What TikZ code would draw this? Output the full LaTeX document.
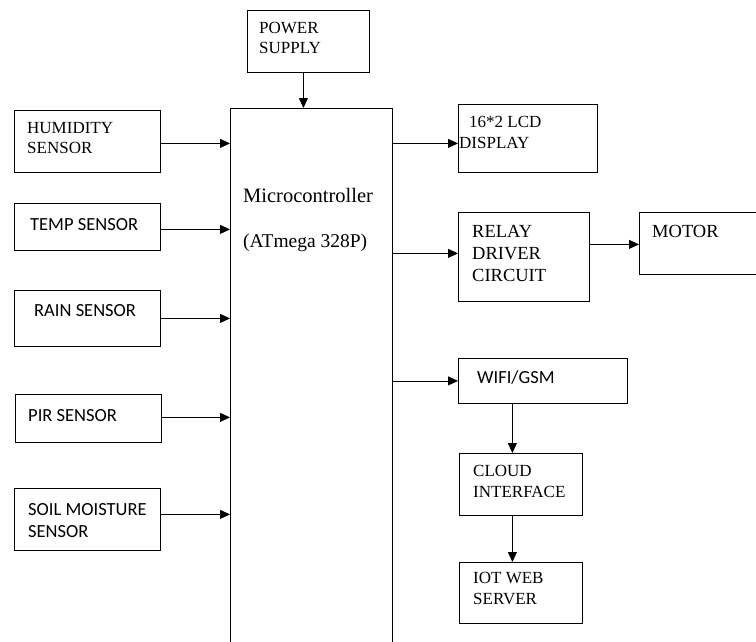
\documentclass[tikz,border=0pt]{standalone}
\usepackage{fontspec}
\setmainfont{Liberation Serif}
\newfontfamily\calibri{Carlito}
\usetikzlibrary{arrows.meta}
\begin{document}
\begin{tikzpicture}[x=1pt,y=-1pt,
  box/.style={draw, line width=0.8pt, rectangle, inner sep=0pt, anchor=north west},
  arr/.style={line width=0.8pt, -{Triangle[length=10pt,width=9pt]}},
  tx/.style={anchor=base west, inner sep=0pt, font=\fontsize{17}{20}\selectfont},
  txb/.style={anchor=base west, inner sep=0pt, font=\fontsize{18.5}{22}\selectfont},
  sx/.style={anchor=base west, inner sep=0pt, font=\calibri\fontsize{18.5}{22}\selectfont}]
\useasboundingbox (0,0) rectangle (756,641);
\clip (0,0) rectangle (756,641);

% boxes
\node[box, minimum width=122pt, minimum height=62pt] (power) at (247,10) {};
\node[box, minimum width=146pt, minimum height=62pt] (hum) at (14,110) {};
\node[box, minimum width=146pt, minimum height=47pt] (temp) at (14,203) {};
\node[box, minimum width=146pt, minimum height=56pt] (rain) at (14,290) {};
\node[box, minimum width=146pt, minimum height=48pt] (pir) at (15,394) {};
\node[box, minimum width=146pt, minimum height=62pt] (soil) at (14,488) {};
\node[box, minimum width=139pt, minimum height=68pt] (lcd) at (458,104) {};
\node[box, minimum width=131pt, minimum height=89pt] (relay) at (458,212) {};
\node[box, minimum width=130pt, minimum height=62pt] (motor) at (639,212) {};
\node[box, minimum width=169pt, minimum height=45pt] (wifi) at (458,358) {};
\node[box, minimum width=123pt, minimum height=62pt] (cloud) at (459,453) {};
\node[box, minimum width=123pt, minimum height=61pt] (iot) at (459,562) {};

% microcontroller (open at the bottom)
\node[anchor=north west, inner sep=0pt, minimum width=162pt, minimum height=545pt] (mc) at (230,108) {};
\draw[line width=0.8pt] (mc.south west) -- (mc.north west) -- (mc.north east) -- (mc.south east);

% texts
\node[tx] (tpow1) at (259,33) {POWER};
\node[tx] (tpow2) at (259,53) {SUPPLY};
\node[tx] (thum1) at (27,133) {HUMIDITY};
\node[tx] (thum2) at (27,153) {SENSOR};
\node[anchor=base west, inner sep=0pt, font=\fontsize{20.5}{24}\selectfont] (tmc1) at (243,202) {Microcontroller};
\node[anchor=base west, inner sep=0pt, font=\fontsize{19.5}{24}\selectfont] (tmc2) at (243,247) {(ATmega 328P)};
\node[sx] (ttemp) at (30,230) {TEMP SENSOR};
\node[sx] (train) at (34,316) {RAIN SENSOR};
\node[sx] (tpir) at (28,421) {PIR SENSOR};
\node[sx] (tsoil1) at (28,515) {SOIL MOISTURE};
\node[sx] (tsoil2) at (28,537) {SENSOR};
\node[tx] (tlcd1) at (469,127) {16*2 LCD};
\node[tx] (tlcd2) at (459,148) {DISPLAY};
\node[txb] (trel1) at (472,237) {RELAY};
\node[txb] (trel2) at (472,259) {DRIVER};
\node[txb] (trel3) at (472,281) {CIRCUIT};
\node[txb] (tmot) at (652,237) {MOTOR};
\node[sx] (twifi) at (477,383) {WIFI/GSM};
\node[tx] (tcl1) at (473,476) {CLOUD};
\node[tx] (tcl2) at (473,497) {INTERFACE};
\node[tx] (tiot1) at (473,583) {IOT WEB};
\node[tx] (tiot2) at (473,604) {SERVER};

% connector anchor points
\coordinate (pwout) at ([xshift=-5pt]power.south);
\coordinate (humout) at ([yshift=-2pt]hum.east);
\coordinate (tempout) at ([yshift=-2.5pt]temp.east);
\coordinate (rainout) at (rain.east);
\coordinate (pirout) at ([yshift=1pt]pir.east);
\coordinate (soilout) at ([yshift=5pt]soil.east);
\coordinate (lcdin) at ([yshift=-5pt]lcd.west);
\coordinate (relayin) at ([yshift=3.5pt]relay.west);
\coordinate (relayout) at ([yshift=12.5pt]relay.east);
\coordinate (wifiin) at (wifi.west);
\coordinate (cloudin) at ([xshift=-8.5pt]cloud.north);
\coordinate (cloudout) at ([xshift=-8.5pt]cloud.south);

% connectors
\draw[arr] (pwout) -- (pwout |- mc.north);
\draw[arr] (humout) -- (humout -| mc.west);
\draw[arr] (tempout) -- (tempout -| mc.west);
\draw[arr] (rainout) -- (rainout -| mc.west);
\draw[arr] (pirout) -- (pirout -| mc.west);
\draw[arr] (soilout) -- (soilout -| mc.west);
\draw[arr] (lcdin -| mc.east) -- (lcdin);
\draw[arr] (relayin -| mc.east) -- (relayin);
\draw[arr] (relayout) -- (relayout -| motor.west);
\draw[arr] (wifiin -| mc.east) -- (wifiin);
\draw[arr] (cloudin |- wifi.south) -- (cloudin);
\draw[arr] (cloudout) -- (cloudout |- iot.north);
\end{tikzpicture}
\end{document}
